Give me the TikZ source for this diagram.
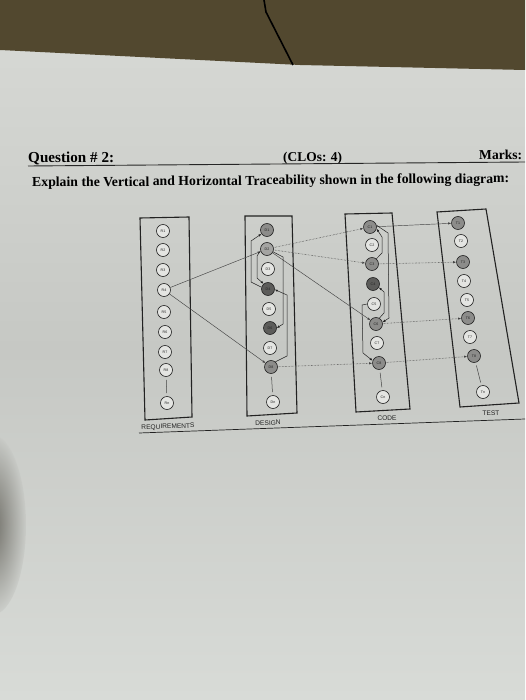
\documentclass[tikz,border=0pt]{standalone}
\usepackage{fontspec}
\setmainfont{Liberation Serif}
\setsansfont{Liberation Sans}
\usetikzlibrary{arrows.meta}
\definecolor{band}{HTML}{52482F}
\definecolor{papertop}{HTML}{D8DAD6}
\definecolor{papermid}{HTML}{C6C8C4}
\definecolor{paperbot}{HTML}{D8DBD7}
\definecolor{wfill}{HTML}{E4E5E2}
\definecolor{mfill}{HTML}{8C8C8A}
\definecolor{lfill}{HTML}{A4A4A2}
\definecolor{dfill}{HTML}{5C5C5A}
\definecolor{ink}{HTML}{222222}
\begin{document}
\begin{tikzpicture}[x=1pt,y=-1pt,
  tnode/.style={circle,draw=ink,line width=0.6pt,minimum size=13pt,inner sep=0pt,
    text=ink,font=\sffamily\fontsize{3.6}{4}\selectfont},
  wn/.style={tnode,fill=wfill},
  mn/.style={tnode,fill=mfill},
  ln/.style={tnode,fill=lfill},
  dn/.style={tnode,fill=dfill},
  colbox/.style={draw=ink,line width=1.1pt},
  hline/.style={draw=ink!85,line width=0.45pt,-{Latex[length=3pt,width=2.4pt]}},
  dline/.style={hline,densely dotted,line width=0.6pt},
  vline/.style={draw=ink,line width=0.5pt,-{Latex[length=3pt,width=2.4pt]}},
  link/.style={draw=ink!85,line width=0.5pt,shorten <=3pt,shorten >=3pt},
  lbl/.style={font=\sffamily\fontsize{6.6}{7}\selectfont,text=ink,rotate=2,inner sep=0pt},
  hdr/.style={font=\bfseries,text=black,inner sep=0pt,rotate=0.5}
]
\useasboundingbox (0,0) rectangle (525,700);
% background: paper and table
\shade[top color=papertop,bottom color=paperbot,middle color=papermid] (0,0) rectangle (525,700);
\fill[band] (0,0) -- (525,0) -- (525,70) -- (300,65) -- (0,50) -- cycle;
\draw[black,line width=1.6pt] (264,0) -- (266,12) -- (293,65);
\shade[inner color=black!60!band,outer color=papermid,opacity=0.55] (-8,525) ellipse (34 and 90);

% header
\node[hdr,anchor=base west] (q) at (28,163) {\resizebox{86pt}{!}{Question \# 2:}};
\node[hdr,anchor=base west] (clo) at (283,162) {\resizebox{59pt}{!}{(CLOs: 4)}};
\node[hdr,anchor=base west] (mk) at (479,160) {\resizebox{43pt}{!}{Marks:}};
\draw[black!85,line width=0.9pt] (28,166) -- (525,162);
\node[hdr,anchor=base west] (ex) at (32,187) {\resizebox{477pt}{!}{Explain the Vertical and Horizontal Traceability shown in the following diagram:}};

% column boxes
\draw[colbox] (140,218) -- (189,217) -- (192,417) -- (145,420) -- cycle;
\draw[colbox] (245,216) -- (292,216) -- (297,413) -- (247,416) -- cycle;
\draw[colbox] (345,214) -- (392,213) -- (410,409) -- (356,412) -- cycle;
\draw[colbox] (437,212) -- (486,209) -- (519,403) -- (460,407) -- cycle;

% requirements
\node[wn] (R1) at (163,231) {R1};
\node[wn] (R2) at (163,250) {R2};
\node[wn] (R3) at (163,270) {R3};
\node[wn] (R4) at (164,290) {R4};
\node[wn] (R5) at (164,312) {R5};
\node[wn] (R6) at (165,332) {R6};
\node[wn] (R7) at (165,352) {R7};
\node[wn] (R8) at (166,370) {R8};
\node[wn] (Rn) at (167,403) {Rn};
% design
\node[mn] (D1) at (267,230) {D1};
\node[ln] (D2) at (267,249) {D2};
\node[wn] (D3) at (268,269) {D3};
\node[dn] (D4) at (268,289) {D4};
\node[wn] (D5) at (269,309) {D5};
\node[dn] (D6) at (270,328) {D6};
\node[wn] (D7) at (270,348) {D7};
\node[mn] (D8) at (271,367) {D8};
\node[wn] (Dn) at (273,402) {Dn};
% code
\node[mn] (C1) at (370,227) {C1};
\node[wn] (C2) at (372,245) {C2};
\node[mn] (C3) at (372,264) {C3};
\node[dn] (C4) at (373,284) {C4};
\node[wn] (C5) at (374,304) {C5};
\node[mn] (C6) at (376,324) {C6};
\node[wn] (C7) at (377,343) {C7};
\node[mn] (C8) at (379,363) {C8};
\node[wn] (Cn) at (383,397) {Cn};
% test
\node[mn] (T1) at (458,223) {T1};
\node[wn] (T2) at (461,241) {T2};
\node[mn] (T3) at (463,262) {T3};
\node[wn] (T4) at (464,281) {T4};
\node[wn] (T5) at (467,300) {T5};
\node[mn] (T6) at (468,318) {T6};
\node[wn] (T7) at (470,337) {T7};
\node[mn] (T8) at (474,356) {T8};
\node[wn] (Tn) at (483,392) {Tn};

% ellipsis links
\draw[link] (R8) -- (Rn);
\draw[link] (D8) -- (Dn);
\draw[link] (C8) -- (Cn);
\draw[link] (T8) -- (Tn);

% horizontal traceability
\draw[hline] (R4) -- (D2);
\draw[hline] (R4) -- (D8);
\draw[dline] (D2) -- (C1);
\draw[dline] (D2) -- (C3);
\draw[hline] (D2) -- (C6);
\draw[dline] (D8) -- (C8);
\draw[hline] (C1) -- (T1);
\draw[dline] (C3) -- (T3);
\draw[dline] (C6) -- (T6);
\draw[dline] (C8) -- (T8);

% vertical traceability: design
\draw[vline] (D4.165) -- (251,282) -- (251,241) -- (D1.215);
\draw[vline] (D2.195) -- (257,256) -- (257,278) -- (D4.130);
\draw[vline] (D2.-25) -- (283,257) -- (283,324) -- (D6.east);
\draw[vline] (D8.50) -- (287,356) -- (287,295) -- (D4.-5);
% vertical traceability: code
\draw[vline] (C3.50) -- (382,253) -- (382,237) -- (C1.-15);
\draw[vline] (C1.15) -- (388,233) -- (389,318) -- (C6.15);
\draw[vline] (C6.60) -- (384,313) -- (384,292) -- (C4.-30);
\draw[vline] (C5.180) -- (362,305) -- (363,353) -- (C8.160);

% labels and base rule
\node[lbl] (lr) at (168,427) {REQUIREMENTS};
\node[lbl] (ld) at (268,423) {DESIGN};
\node[lbl] (lc) at (387,418) {CODE};
\node[lbl] (lt) at (491,413) {TEST};
\draw[ink,line width=0.7pt] (139,433) -- (525,419);
\end{tikzpicture}
\end{document}
